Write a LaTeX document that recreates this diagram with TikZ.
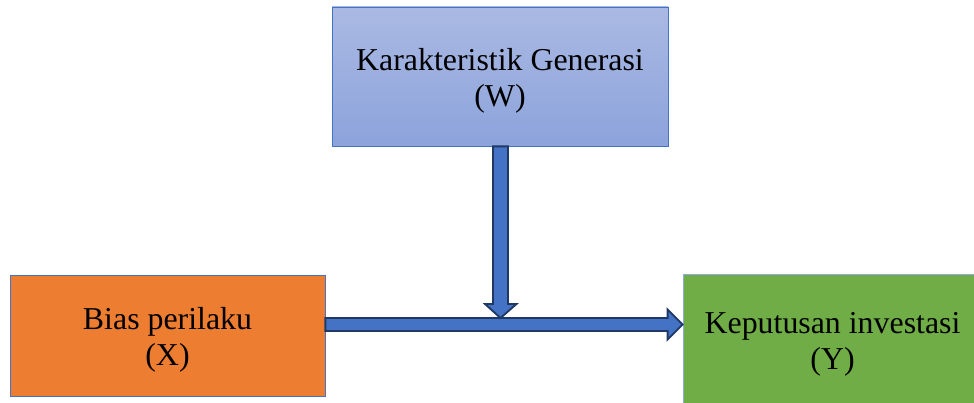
\documentclass[tikz,border=0pt]{standalone}
\usepackage{fontspec}
\setmainfont{Liberation Serif}
\usetikzlibrary{positioning, calc}
\definecolor{genTop}{RGB}{170,185,227}
\definecolor{genBot}{RGB}{140,163,219}
\definecolor{frame}{RGB}{68,114,196}
\definecolor{biasFill}{RGB}{237,125,49}
\definecolor{kepFill}{RGB}{112,173,71}
\definecolor{kepFrame}{RGB}{143,170,220}
\definecolor{arrowFill}{RGB}{68,114,196}
\definecolor{arrowLine}{RGB}{32,56,100}
\tikzset{
box/.style = {rectangle, draw = frame, line width = 0.6pt, inner sep = 0pt},
boxtext/.style = {align = center, inner sep = 0pt, yshift = -3.5pt,
   font = \fontsize{23.9}{27}\selectfont},
blockarrow/.style = {draw = arrowLine, fill = arrowFill, line width = 1.4pt,
   line join = miter}
}

\begin{document}
\begin{tikzpicture}[x = 0.75pt, y = -0.75pt]

\clip (0,0) rectangle (974,403);

%% Boxes
\node [box, top color = genTop, bottom color = genBot, minimum width = 252pt,
   minimum height = 104.25pt] (gen) at (500, 76.5) {};
\node [box, fill = biasFill, minimum width = 236.25pt, minimum height = 90.75pt]
   (bias) at (167.5, 335.5) {};
\node [box, draw = kepFrame, fill = kepFill, minimum width = 224.25pt,
   minimum height = 98.25pt] (kep) at (832.5, 339.5) {};

%% Texts
\node [boxtext] (gen-text) at (gen) {Karakteristik Generasi\\(W)};
\node [boxtext] (bias-text) at (bias) {Bias perilaku\\(X)};
\node [boxtext] (kep-text) at (kep) {Keputusan investasi\\(Y)};

%% Arrows
\coordinate (hs) at ($(bias.east) + (0, -11)$);
\coordinate (he) at (kep.west |- hs);
\coordinate (vs) at ($(gen.south) + (0.5, 0)$);
\coordinate (ve) at ($(vs |- hs) + (0, -6.5)$);

\draw [blockarrow] ($(hs) + (0, -6.5)$) -- ($(he) + (-15, -6.5)$)
   -- ($(he) + (-15, -15)$) -- (he) -- ($(he) + (-15, 15)$)
   -- ($(he) + (-15, 6.5)$) -- ($(hs) + (0, 6.5)$) -- cycle;
\draw [blockarrow] ($(vs) + (-7.5, 0)$) -- ($(ve) + (-7.5, -14)$)
   -- ($(ve) + (-15.5, -14)$) -- (ve) -- ($(ve) + (16, -14)$)
   -- ($(ve) + (7.5, -14)$) -- ($(vs) + (7.5, 0)$) -- cycle;

\end{tikzpicture}
\end{document}
